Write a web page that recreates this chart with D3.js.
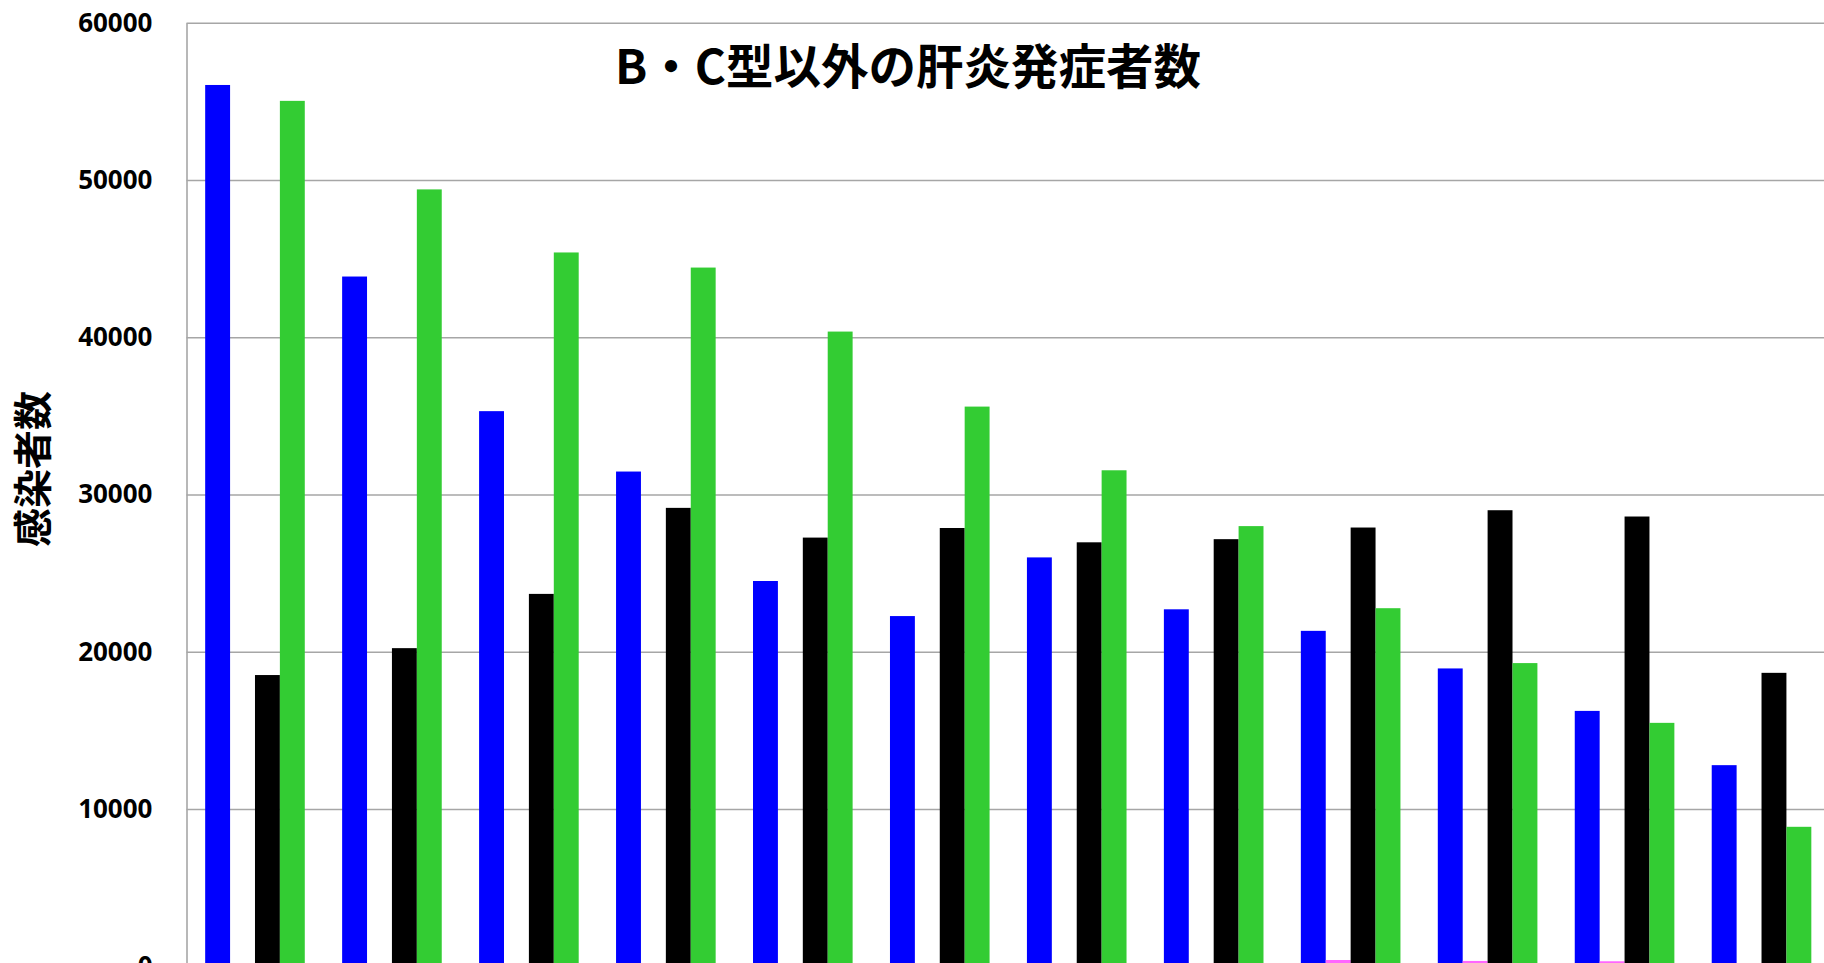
<!DOCTYPE html>
<html>
<head>
<meta charset="utf-8">
<script src="https://cdn.jsdelivr.net/npm/d3@7/dist/d3.min.js"></script>
<style>
    body { margin: 0; background: #fff; overflow: hidden; }
</style>
</head>
<body>
<script>
// x labels are cut off in the source picture, so categories are just ordinals
var categories = ['1', '2', '3', '4', '5', '6', '7', '8', '9', '10', '11', '12'];
var seriesNames = ['s1', 's2', 's3', 's4'];
var seriesColors = ['#0000ff', '#ff66ff', '#000000', '#33cc33'];

var blueValues  = [56040, 43860, 35300, 31460, 24500, 22270, 26000, 22700, 21330, 18940, 16240, 12790];
var pinkValues  = [0, 0, 0, 0, 0, 0, 0, 0, 400, 340, 320, 0];
var blackValues = [18520, 20230, 23680, 29150, 27260, 27870, 26960, 27160, 27900, 29000, 28600, 18660];
var greenValues = [55030, 49400, 45390, 44430, 40360, 35590, 31540, 27990, 22770, 19280, 15480, 8870];

var yTicks = [0, 10000, 20000, 30000, 40000, 50000, 60000];

var titleText = 'B・C型以外の肝炎発症者数';
var yLabelText = '感染者数';

function draw() {
    var w = 1824;
    var h = 963;
    // plot box (right and bottom run past the window, as in the source)
    var plotLeft = 186.5;
    var plotRight = 1830;
    var plotTop = 22.7;
    var plotBottom = 966.3;

    var svg = d3.select('body')
        .append('svg')
        .attr('width', w)
        .attr('height', h);

    var x0 = d3.scaleBand()
        .domain(categories)
        .range([plotLeft, plotRight])
        .paddingInner(0)
        .paddingOuter(0);

    // gap of 150% of a bar width between groups
    var x1 = d3.scaleBand()
        .domain(seriesNames)
        .range([0, x0.bandwidth()])
        .paddingInner(0)
        .paddingOuter(0.75);

    var y = d3.scaleLinear()
        .domain([0, 60000])
        .range([plotBottom, plotTop]);

    // gridlines + tick labels
    var yAxis = d3.axisLeft(y)
        .tickValues(yTicks)
        .tickFormat(d3.format('d'))
        .tickSizeInner(-(plotRight - plotLeft))
        .tickSizeOuter(0)
        .tickPadding(34);

    var gAxis = svg.append('g')
        .attr('transform', 'translate(' + plotLeft + ',0)')
        .call(yAxis);

    gAxis.select('.domain')
        .attr('stroke', '#a0a0a0')
        .attr('stroke-width', 1.5);
    gAxis.selectAll('.tick line')
        .attr('stroke', '#a6a6a6')
        .attr('stroke-width', 1.5);
    gAxis.selectAll('.tick text')
        .attr('font-family', '"Noto Sans", sans-serif')
        .attr('font-weight', 'bold')
        .attr('font-size', '26px')
        .attr('fill', '#000');

    // one row per category
    var allSeries = [blueValues, pinkValues, blackValues, greenValues];
    var rows = categories.map(function(c, i) {
        return {
            cat: c,
            vals: seriesNames.map(function(s, j) {
                return { key: s, value: allSeries[j][i], color: seriesColors[j] };
            })
        };
    });

    var groups = svg.append('g')
        .selectAll('g')
        .data(rows)
        .enter()
        .append('g')
        .attr('transform', function(d) { return 'translate(' + x0(d.cat) + ',0)'; });

    groups.selectAll('rect')
        .data(function(d) { return d.vals.filter(function(v) { return v.value > 0; }); })
        .enter()
        .append('rect')
        .attr('x', function(d) { return x1(d.key); })
        .attr('width', x1.bandwidth())
        .attr('y', function(d) { return y(d.value); })
        .attr('height', function(d) { return y(0) - y(d.value); })
        .attr('fill', function(d) { return d.color; });

    svg.append('text')
        .text(titleText)
        .attr('x', 908)
        .attr('y', 84)
        .attr('text-anchor', 'middle')
        .attr('font-family', '"Noto Sans CJK JP", sans-serif')
        .attr('font-weight', 'bold')
        .attr('font-size', '47.5px')
        .attr('fill', '#000');

    svg.append('text')
        .text(yLabelText)
        .attr('transform', 'translate(30,469) rotate(-90)')
        .attr('text-anchor', 'middle')
        .attr('dominant-baseline', 'central')
        .attr('font-family', '"Noto Sans CJK JP", sans-serif')
        .attr('font-weight', 'bold')
        .attr('font-size', '39px')
        .attr('fill', '#000');
}

draw();
</script>
</body>
</html>
